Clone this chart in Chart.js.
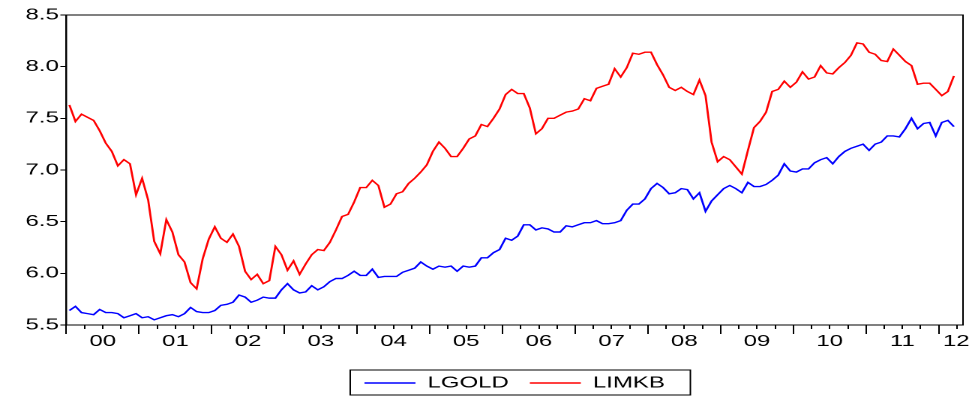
<!DOCTYPE html>
<html>
<head>
<meta charset="utf-8">
<script src="https://cdn.jsdelivr.net/npm/chart.js@4.4.1/dist/chart.umd.min.js"></script>
<style>
html,body{margin:0;padding:0;background:#fff;overflow:hidden}
/* the reference picture is stretched sideways, so draw at 650 wide and stretch */
#wrap{position:absolute;left:0;top:0;width:650px;height:401px;transform:scaleX(1.5);transform-origin:0 0}
</style>
</head>
<body>
<div id="wrap"><canvas id="chart"></canvas></div>
<script>
const yearLabels=["00","01","02","03","04","05","06","07","08","09","10","11","12"]

const yTicks=[5.5,6.0,6.5,7.0,7.5,8.0,8.5]

// monthly, 2000M01 - 2012M03
const lgold=[
5.64,5.68,5.62,5.61,5.60,5.65,5.62,5.62,5.61,5.57,5.59,5.61,
5.57,5.58,5.55,5.57,5.59,5.60,5.58,5.61,5.67,5.63,5.62,5.62,
5.64,5.69,5.70,5.72,5.79,5.77,5.72,5.74,5.77,5.76,5.76,5.84,
5.90,5.84,5.81,5.82,5.88,5.84,5.87,5.92,5.95,5.95,5.98,6.02,
5.98,5.98,6.04,5.96,5.97,5.97,5.97,6.01,6.03,6.05,6.11,6.07,
6.04,6.07,6.06,6.07,6.02,6.07,6.06,6.07,6.15,6.15,6.20,6.23,
6.34,6.32,6.36,6.47,6.47,6.42,6.44,6.43,6.40,6.40,6.46,6.45,
6.47,6.49,6.49,6.51,6.48,6.48,6.49,6.51,6.61,6.67,6.67,6.72,
6.82,6.87,6.83,6.77,6.78,6.82,6.81,6.72,6.78,6.60,6.70,6.76,
6.82,6.85,6.82,6.78,6.88,6.84,6.84,6.86,6.90,6.95,7.06,6.99,
6.98,7.01,7.01,7.07,7.10,7.12,7.06,7.13,7.18,7.21,7.23,7.25,
7.19,7.25,7.27,7.33,7.33,7.32,7.40,7.50,7.40,7.45,7.46,7.33,
7.46,7.48,7.42]

const limkb=[
7.63,7.47,7.54,7.51,7.48,7.38,7.26,7.18,7.04,7.10,7.06,6.76,
6.92,6.71,6.31,6.19,6.52,6.40,6.18,6.11,5.91,5.85,6.14,6.33,
6.45,6.34,6.30,6.38,6.26,6.02,5.94,5.99,5.90,5.93,6.26,6.18,
6.03,6.12,5.99,6.09,6.18,6.23,6.22,6.30,6.42,6.55,6.57,6.69,
6.83,6.83,6.90,6.85,6.64,6.67,6.77,6.79,6.87,6.92,6.98,7.05,
7.18,7.27,7.21,7.13,7.13,7.21,7.30,7.33,7.44,7.42,7.50,7.59,
7.73,7.78,7.74,7.74,7.60,7.35,7.40,7.50,7.50,7.53,7.56,7.57,
7.59,7.69,7.67,7.79,7.81,7.83,7.98,7.90,7.99,8.13,8.12,8.14,
8.14,8.02,7.92,7.80,7.77,7.80,7.76,7.73,7.87,7.72,7.27,7.08,
7.13,7.10,7.03,6.96,7.19,7.41,7.47,7.56,7.76,7.78,7.86,7.80,
7.85,7.95,7.88,7.90,8.01,7.94,7.93,7.99,8.04,8.11,8.23,8.22,
8.14,8.12,8.06,8.05,8.17,8.11,8.05,8.01,7.83,7.84,7.84,7.78,
7.72,7.76,7.91]

const xMax=148
const font={family:"'Liberation Sans', Arial, sans-serif",size:16}

const toPoints=arr=>arr.map((v,i)=>({x:i+0.5,y:v}))

function tickEvery(step){
return s=>{
const t=[]
for(let m=0;m<=lgold.length;m+=step)t.push({value:m})
s.ticks=t
}
}

// box round the plot and round the legend, as eviews does
const frame={
id:"frame",
afterDraw(chart){
const {ctx,chartArea:a,legend}=chart
ctx.save()
ctx.strokeStyle="#000"
ctx.lineWidth=1
ctx.strokeRect(a.left,a.top,a.right-a.left,a.bottom-a.top)
const hb=legend.legendHitBoxes
if(hb&&hb.length){
const last=hb[hb.length-1]
const l=hb[0].left-9.5
const r=last.left+last.width+17
const t=hb[0].top-5
const b=hb[0].top+hb[0].height+4
ctx.strokeRect(l,t,r-l,b-t)
}
ctx.restore()
}
}

new Chart(document.getElementById("chart"),{
type:"line",
data:{
datasets:[
{label:"LGOLD",data:toPoints(lgold),borderColor:"#0000ff",backgroundColor:"#0000ff",borderWidth:1.4,pointRadius:0,pointStyle:"line",tension:0},
{label:"LIMKB",data:toPoints(limkb),borderColor:"#ff0000",backgroundColor:"#ff0000",borderWidth:1.4,pointRadius:0,pointStyle:"line",tension:0}
]
},
options:{
responsive:true,
maintainAspectRatio:false,
animation:false,
devicePixelRatio:2,
layout:{padding:{top:15,left:16,right:8,bottom:0}},
plugins:{
legend:{
position:"bottom",
fullSize:false,
labels:{usePointStyle:true,pointStyleWidth:34,boxHeight:16,padding:14,color:"#000",font}
},
tooltip:{enabled:false}
},
scales:{
x:{
type:"linear",position:"bottom",min:0,max:xMax,
afterBuildTicks(s){s.ticks=yearLabels.map((l,i)=>({value:Math.min(i*12+6,xMax-1.1)}))},
afterFit(s){s.height=36},
grid:{display:false,drawTicks:true,tickLength:7},
border:{display:true,color:"#000",width:1},
ticks:{autoSkip:false,maxRotation:0,padding:0,color:"#000",font,callback:(v,i)=>yearLabels[i]}
},
xq:{
axis:"x",type:"linear",position:{y:5.5},min:0,max:xMax,display:true,
afterBuildTicks:tickEvery(3),
grid:{drawOnChartArea:false,tickLength:4,tickColor:"#000"},
border:{display:false},
ticks:{display:false}
},
xy:{
axis:"x",type:"linear",position:{y:5.5},min:0,max:xMax,display:true,
afterBuildTicks:tickEvery(12),
grid:{drawOnChartArea:false,tickLength:9,tickColor:"#000"},
border:{display:false},
ticks:{display:false}
},
y:{
position:"left",min:5.5,max:8.5,
afterBuildTicks(s){s.ticks=yTicks.map(v=>({value:v}))},
grid:{drawOnChartArea:false,tickLength:4,tickColor:"#000"},
border:{color:"#000",width:1},
ticks:{padding:1,color:"#000",font,callback:v=>v.toFixed(1)}
}
}
},
plugins:[frame]
})
</script>
</body>
</html>
